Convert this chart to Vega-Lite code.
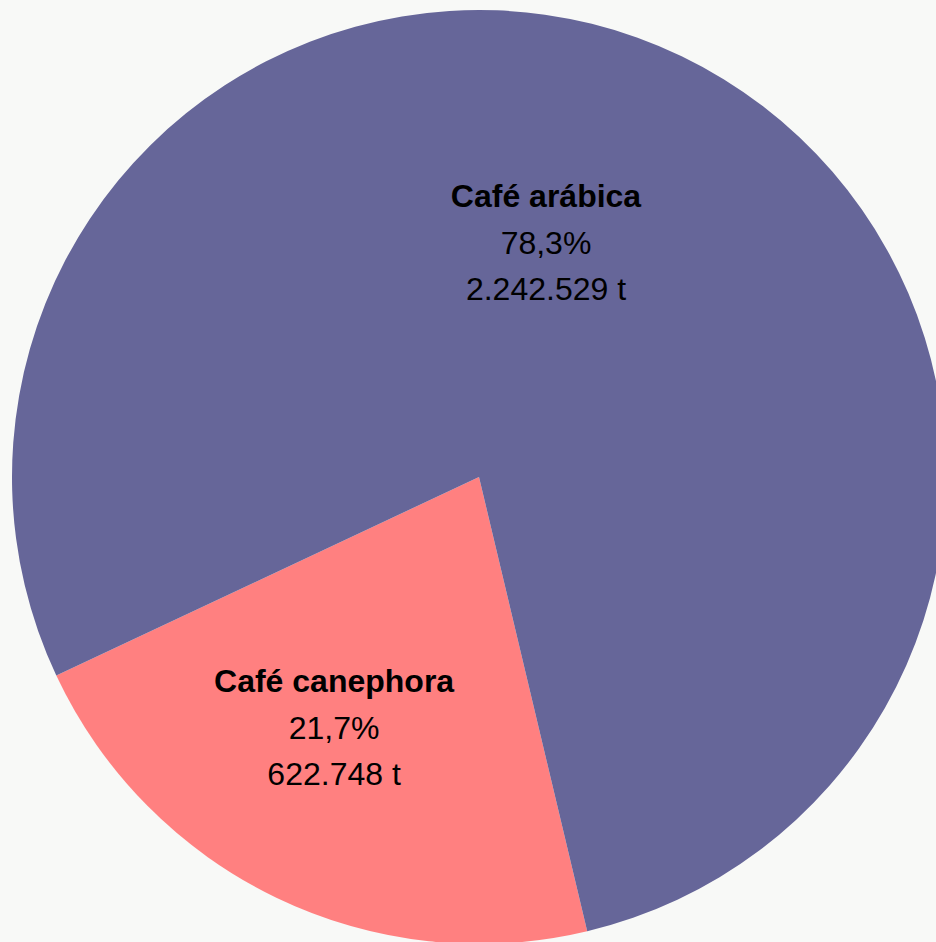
{
  "$schema": "https://vega.github.io/schema/vega-lite/v6.json",
  "autosize": {"type": "fit", "contains": "padding"},
  "width": 936,
  "height": 942,
  "padding": {"left": 22, "top": 12, "right": 0, "bottom": 0},
  "background": "#f8f9f7",
  "config": {"view": {"stroke": null}, "text": {"font": "Liberation Sans"}},
  "data": {
    "values": [
      {"name": "Café canephora", "value": 622748, "pct": "21,7%", "tons": "622.748 t", "ord": 1},
      {"name": "Café arábica", "value": 2242529, "pct": "78,3%", "tons": "2.242.529 t", "ord": 2}
    ]
  },
  "encoding": {
    "order": {"field": "ord", "type": "quantitative"}
  },
  "layer": [
    {
      "mark": {"type": "arc", "outerRadius": 467},
      "encoding": {
        "theta": {"field": "value", "type": "quantitative", "stack": true, "scale": {"range": [2.9077, 9.1909]}},
        "color": {
          "field": "name", "type": "nominal",
          "scale": {"domain": ["Café canephora", "Café arábica"], "range": ["#ff8080", "#666699"]},
          "legend": null
        }
      }
    },
    {
      "mark": {"type": "text", "fontSize": 32, "fontWeight": "bold", "color": "#000000", "align": "center", "baseline": "middle", "dy": -47},
      "encoding": {
        "theta": {"field": "value", "type": "quantitative", "stack": true, "scale": {"range": [3.0332, 8.8327]}},
        "radius": {"field": "value", "type": "quantitative", "scale": {"type": "linear", "zero": false, "domain": [622748, 2242529], "range": [290.7, 242.4]}},
        "text": {"field": "name", "type": "nominal"}
      }
    },
    {
      "mark": {"type": "text", "fontSize": 32, "color": "#000000", "align": "center", "baseline": "middle", "dy": 0},
      "encoding": {
        "theta": {"field": "value", "type": "quantitative", "stack": true, "scale": {"range": [3.0332, 8.8327]}},
        "radius": {"field": "value", "type": "quantitative", "scale": {"type": "linear", "zero": false, "domain": [622748, 2242529], "range": [290.7, 242.4]}},
        "text": {"field": "pct", "type": "nominal"}
      }
    },
    {
      "mark": {"type": "text", "fontSize": 32, "color": "#000000", "align": "center", "baseline": "middle", "dy": 46},
      "encoding": {
        "theta": {"field": "value", "type": "quantitative", "stack": true, "scale": {"range": [3.0332, 8.8327]}},
        "radius": {"field": "value", "type": "quantitative", "scale": {"type": "linear", "zero": false, "domain": [622748, 2242529], "range": [290.7, 242.4]}},
        "text": {"field": "tons", "type": "nominal"}
      }
    }
  ],
  "resolve": {"scale": {"theta": "independent"}}
}
